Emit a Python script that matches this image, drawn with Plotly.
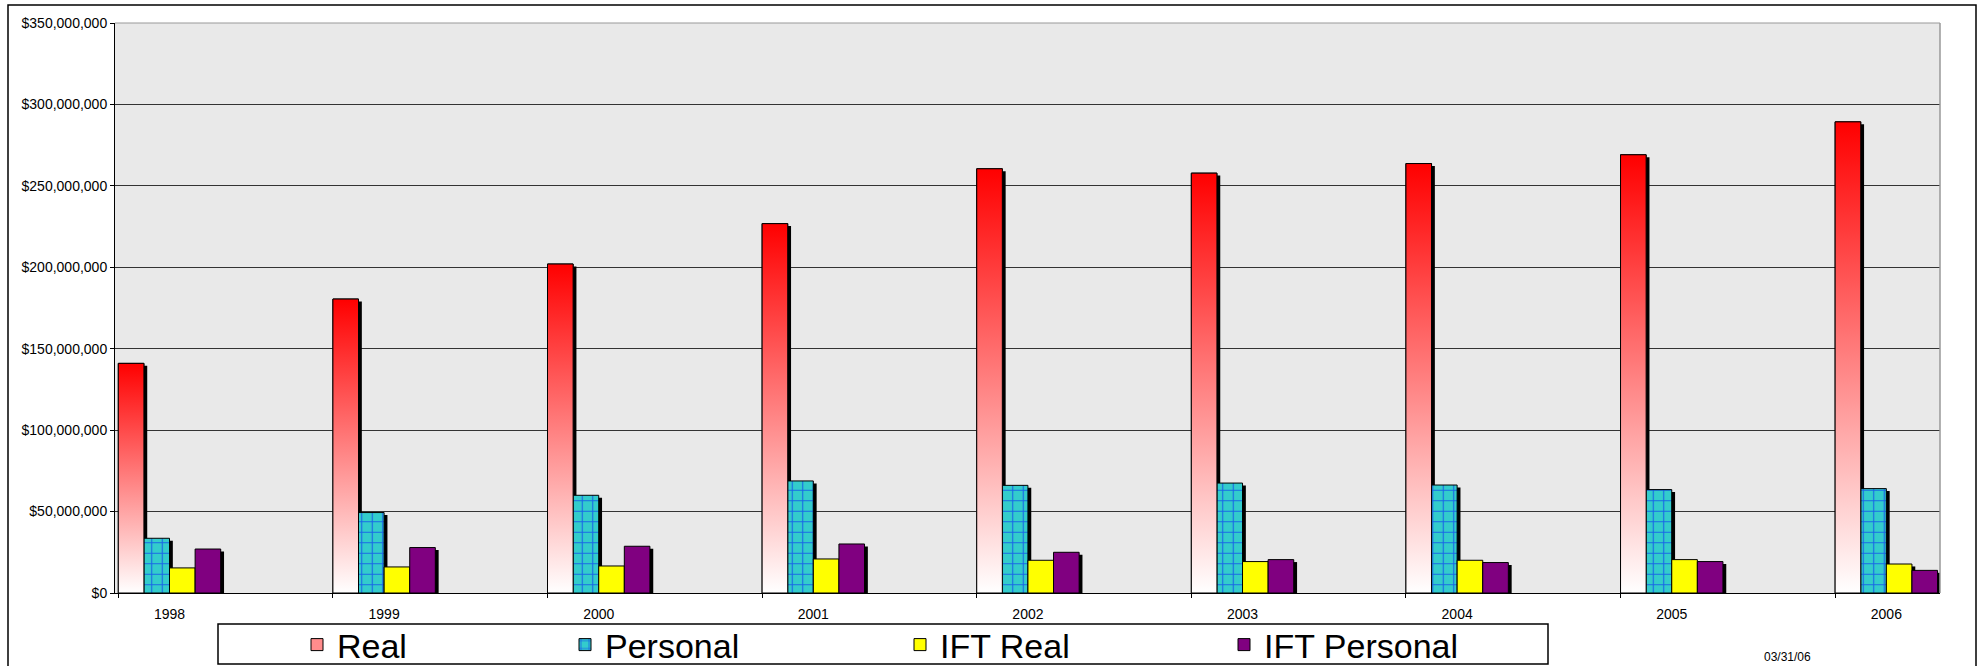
import plotly.graph_objects as go

# ---------------- data (values in US dollars) ----------------
years = [1998, 1999, 2000, 2001, 2002, 2003, 2004, 2005, 2006]
real = [141000000, 180500000, 202000000, 226800000, 260500000,
        257800000, 263700000, 269100000, 289300000]
personal = [33600000, 49400000, 60000000, 68800000, 66100000,
            67500000, 66300000, 63500000, 64100000]
ift_real = [15400000, 16000000, 16600000, 20900000, 20100000,
            19300000, 20100000, 20500000, 17800000]
ift_personal = [27000000, 27900000, 28700000, 30100000, 25000000,
                20500000, 18700000, 19300000, 13900000]
series_names = ["Real", "Personal", "IFT Real", "IFT Personal"]
date_label = "03/31/06"

# ---------------- layout constants ----------------
W, H = 1986, 666
ML, MR, MT, MB = 115, 46, 23, 73
PW, PH = W - ML - MR, H - MT - MB
BW = 0.1193          # bar width in category units
SHX = 0.0155         # shadow x shift
SHY = 1500000        # shadow drop
FONT = "Liberation Sans, Arial, sans-serif"


def px_x(p):
    return (p - ML) / PW


def px_y(p):
    return (H - MB - p) / PH


all_vals = [real, personal, ift_real, ift_personal]
colors = ["#FF8C8C", "#33CCCC", "#FFFF00", "#800080"]
legends = ["legend", "legend2", "legend3", "legend4"]

fig = go.Figure()

# shadows first
for k, vals in enumerate(all_vals):
    fig.add_bar(x=years, y=[v - SHY for v in vals],
                offset=-2 * BW + k * BW + SHX, width=BW,
                marker=dict(color="black", line=dict(width=0)),
                showlegend=False, hoverinfo="skip")

# main bars
for k, (name, vals, col, lg) in enumerate(zip(series_names, all_vals, colors, legends)):
    marker = dict(color=col, line=dict(color="black", width=1))
    if name == "Personal":
        marker["pattern"] = dict(shape="+", fgcolor="#0000FF", bgcolor="#33CCCC",
                                 size=10.5, solidity=0.2)
    fig.add_bar(x=years, y=vals, name=name, offset=-2 * BW + k * BW, width=BW,
                marker=marker, legend=lg,
                hovertemplate=name + " %{x}: $%{y:,.0f}<extra></extra>")

# gradient fill for the Real bars (white at base -> red at top)
for yr, v in zip(years, real):
    x0, x1 = yr - 2 * BW, yr - BW
    fig.add_trace(go.Scatter(
        x=[x0, x0, x1, x1, x0], y=[0, v, v, 0, 0], mode="lines",
        fill="toself",
        fillgradient=dict(type="vertical",
                          colorscale=[[0, "#FFFFFF"], [1, "#FF0000"]],
                          start=0, stop=v),
        line=dict(color="black", width=1),
        showlegend=False, hoverinfo="skip"))

legend_common = dict(orientation="h", xref="container", yref="container",
                     y=(H - 645) / H, yanchor="middle",
                     xanchor="left", bgcolor="rgba(0,0,0,0)", borderwidth=0,
                     font=dict(family=FONT, size=34, color="black"))
legend_left_px = [297, 565, 900, 1224]

layout_legends = {}
for lg, lp in zip(legends, legend_left_px):
    d = dict(legend_common)
    d["x"] = lp / W
    layout_legends[lg] = d

fig.update_layout(
    width=W, height=H,
    margin=dict(l=ML, r=MR, t=MT, b=MB, autoexpand=False),
    paper_bgcolor="white", plot_bgcolor="#E9E9E9",
    barmode="overlay",
    font=dict(family=FONT, size=14, color="black"),
    xaxis=dict(range=[years[0] - 0.254, years[-1] + 0.25],
               tickmode="array", tickvals=years, ticktext=[str(y) for y in years],
               ticks="", showgrid=False, zeroline=False,
               showline=True, linecolor="black", linewidth=1,
               tickfont=dict(size=14), ticklabelstandoff=8,
               minor=dict(ticks="outside", ticklen=4, tickcolor="black",
                          tick0=years[0] - 2 * BW, dtick=1, showgrid=False)),
    yaxis=dict(range=[0, 350000000], tick0=0, dtick=50000000,
               tickprefix="$", tickformat=",d",
               ticks="outside", ticklen=4, tickcolor="black",
               showline=True, linecolor="black", linewidth=1,
               showgrid=True, gridcolor="#333333", gridwidth=1,
               zeroline=False, tickfont=dict(size=14)),
    shapes=[
        # top / right border of the plot area
        dict(type="line", xref="paper", yref="paper", x0=0, x1=1, y0=1, y1=1,
             line=dict(color="#999999", width=1), layer="above"),
        dict(type="line", xref="paper", yref="paper", x0=1, x1=1, y0=0, y1=1,
             line=dict(color="#999999", width=1.5), layer="above"),
        # outer frame
        dict(type="rect", xref="paper", yref="paper",
             x0=px_x(8), x1=px_x(1976), y0=px_y(690), y1=px_y(5),
             line=dict(color="black", width=1.5), fillcolor="rgba(0,0,0,0)"),
        # legend box
        dict(type="rect", xref="paper", yref="paper",
             x0=px_x(218), x1=px_x(1548), y0=px_y(664), y1=px_y(624),
             line=dict(color="black", width=1.5), fillcolor="rgba(0,0,0,0)"),
    ],
    annotations=[dict(text=date_label, xref="paper", yref="paper",
                      x=px_x(1787), y=px_y(657), xanchor="center", yanchor="middle",
                      showarrow=False, font=dict(size=12, color="black"))],
    **layout_legends,
)

fig.write_html("out.html")
